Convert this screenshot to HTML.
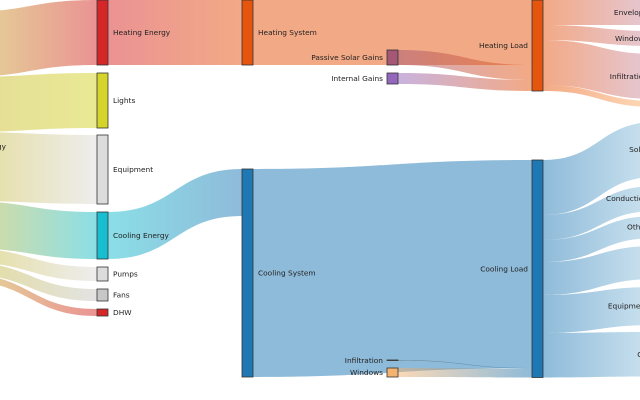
<!DOCTYPE html>
<html><head><meta charset="utf-8">
<style>
html,body{margin:0;padding:0;background:#fff;}
svg{display:block;}
text{font-family:"DejaVu Sans","Liberation Sans",sans-serif;font-size:7.4px;fill:#222;}
</style></head>
<body>
<svg id="chart" width="640" height="400" viewBox="0 0 640 400" xmlns="http://www.w3.org/2000/svg">
<defs id="defs"></defs>
<g id="links"></g>
<g id="nodes"></g>
</svg>
<script>
// Data
const nodeNames = ["Energy","Heating Energy","Lights","Equipment","Cooling Energy","Pumps","Fans","DHW",
  "Heating System","Cooling System","Passive Solar Gains","Internal Gains","Infiltration ","Windows ",
  "Heating Load","Cooling Load","Envelope","Windows","Infiltration","Ventilation","Solar","Conduction","Other","People","Equipment ","OA"];
const nodeColumns = [0,1,1,1,1,1,1,1,2,2,3,3,3,3,4,4,5,5,5,5,5,5,5,5,5,5];
const nodeColors = ["#c8b830","#d62728","#d4d42a","#dcdcdc","#17becf","#dcdcdc","#c7c7c7","#d62728",
  "#e6550d","#1f77b4","#a55776","#9467bd","#444444","#f4b370",
  "#e6550d","#1f77b4","#c994b4","#c994b4","#c994b4","#ffbb78","#9ecae1","#9ecae1","#9ecae1","#9ecae1","#9ecae1","#9ecae1"];
const linkSources = [0,0,0,0,0,0,0, 1,4, 8,10,11, 9,12,13, 14,14,14,14, 15,15,15,15,15,15];
const linkTargets = [1,2,3,4,5,6,7, 8,9, 14,14,14, 15,15,15, 16,17,18,19, 20,21,22,23,24,25];
const linkValues  = [65,55,69,47,14,12,7, 65,47, 65,15,11, 208,0.5,9, 25,15,45,6, 55,25,22,33,38,44.5];
// Layout (pixel positions of node tops)
const nodeTops = [12,0,73,135,212,267,289,309, 0,169, 50,73,360,368, 0,160, 0,31,54,101, 122,186,216,246,287,332];
const hiddenLabels = ["Ventilation","People"];
const colX = c => c===5 ? 656 : -48 + c*145;
const NW = 11, scale = 1;

const svgNS = "http://www.w3.org/2000/svg";
const defs = document.getElementById('defs');
const gL = document.getElementById('links'), gN = document.getElementById('nodes');
const n = nodeNames.length;
const inSum = new Array(n).fill(0), outSum = new Array(n).fill(0);
linkValues.forEach((v,i)=>{ outSum[linkSources[i]]+=v; inSum[linkTargets[i]]+=v; });
const h = nodeNames.map((_,i)=>Math.max(inSum[i],outSum[i])*scale);
const outOff = new Array(n).fill(0), inOff = new Array(n).fill(0);
linkValues.forEach((v,i)=>{
  const s=linkSources[i], t=linkTargets[i];
  const w=v*scale;
  const x0=colX(nodeColumns[s])+NW, x1=colX(nodeColumns[t]);
  const sy=nodeTops[s]+outOff[s], ty=nodeTops[t]+inOff[t];
  outOff[s]+=w; inOff[t]+=w;
  const xm=(x0+x1)/2;
  const gid='g'+i;
  const lg=document.createElementNS(svgNS,'linearGradient');
  lg.setAttribute('id',gid); lg.setAttribute('gradientUnits','userSpaceOnUse');
  lg.setAttribute('x1',x0); lg.setAttribute('x2',x1); lg.setAttribute('y1',0); lg.setAttribute('y2',0);
  [[0,nodeColors[s]],[1,nodeColors[t]]].forEach(([o,c])=>{const st=document.createElementNS(svgNS,'stop');st.setAttribute('offset',o);st.setAttribute('stop-color',c);lg.appendChild(st);});
  defs.appendChild(lg);
  const p=document.createElementNS(svgNS,'path');
  p.setAttribute('d',`M${x0},${sy}C${xm},${sy} ${xm},${ty} ${x1},${ty}L${x1},${ty+w}C${xm},${ty+w} ${xm},${sy+w} ${x0},${sy+w}Z`);
  p.setAttribute('fill',`url(#${gid})`); p.setAttribute('fill-opacity','0.5');
  
  
  gL.appendChild(p);
});
nodeNames.forEach((name,i)=>{
  const c=nodeColumns[i], x=colX(c), y=nodeTops[i];
  const r=document.createElementNS(svgNS,'rect');
  r.setAttribute('x',x); r.setAttribute('y',y); r.setAttribute('width',NW); r.setAttribute('height',Math.max(h[i],0.5));
  r.setAttribute('fill',nodeColors[i]); r.setAttribute('stroke','#333'); r.setAttribute('stroke-width','0.8');
  
  
  gN.appendChild(r);
  if (hiddenLabels.includes(name)) return;
  const t=document.createElementNS(svgNS,'text');
  const right = (c<=2);
  let lx = right ? x+NW+5 : x-4;
  if (c===0) lx = 6;
  if (c===5) lx = 648;
  t.setAttribute('x', lx);
  t.setAttribute('y', y+Math.max(h[i],0.5)/2+2.6);
  t.setAttribute('text-anchor', (right && c!==0) ? 'start':'end');
  t.textContent=name.trim();
  
  
  gN.appendChild(t);
});
</script>
</body></html>
